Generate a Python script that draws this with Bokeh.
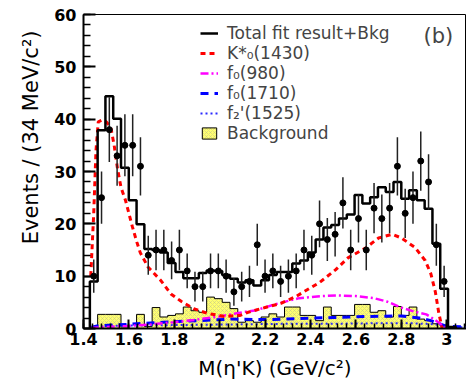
import numpy as np
from bokeh.plotting import figure
from bokeh.models import FixedTicker, Legend, LegendItem, Label, Range1d, Title
from bokeh.embed import file_html
from bokeh.resources import INLINE

# ---- binning of the M(eta'K) spectrum ----
bin_lo = 1.428
bin_width = 0.0343

# observed events per bin
data_counts = [10, 25, 38, 33, 35, 35, 31, 14, 15, 15, 13, 15, 11, 8, 8, 11,
               11, 10, 7, 8, 9, 16, 10, 11, 9, 10, 11, 15, 14, 20, 17, 18, 24,
               15, 21, 15, 23, 21, 23, 31, 22, 25, 32, 28, 16, 9]

# total fit (signal components + background), per bin
fit_total = [9.0, 37.9, 44.4, 40.1, 30.7, 24.5, 19.9, 15.2, 15.0, 14.5, 12.5,
             10.8, 9.6, 9.6, 10.6, 11.1, 11.0, 10.2, 9.5, 8.8, 9.2, 8.2, 9.2,
             10.2, 10.8, 10.8, 12.4, 13.0, 14.5, 17.0, 19.3, 19.8, 21.0, 21.8,
             25.5, 23.9, 25.1, 27.0, 26.1, 28.0, 24.8, 26.4, 24.5, 22.9, 16.2,
             7.6, 0.3]

# background estimate, per bin
background = [0.0, 2.7, 2.7, 2.7, 0.3, 0.0, 2.7, 0.4, 4.0, 2.2, 2.5, 2.8, 4.1,
              3.4, 3.1, 6.0, 5.7, 5.0, 3.8, 1.2, 1.5, 1.2, 2.2, 2.8, 2.2, 4.1,
              4.1, 2.5, 2.5, 1.5, 4.1, 2.5, 2.5, 2.5, 4.6, 4.6, 3.1, 3.4, 2.2,
              4.2, 2.5, 4.1, 1.8, 1.5, 0.9, 0.6, 0.0]

# fitted signal components (mass in GeV/c^2, events per bin)
kst_m = [1.432, 1.445, 1.455, 1.465, 1.480, 1.500, 1.520, 1.535, 1.550, 1.565,
         1.585, 1.600, 1.615, 1.635, 1.650, 1.685, 1.740, 1.785, 1.830, 1.885,
         1.945, 2.020, 2.090, 2.125, 2.200, 2.270, 2.335, 2.440, 2.510, 2.565,
         2.640, 2.700, 2.760, 2.800, 2.860, 2.905, 2.930, 2.950, 2.965, 2.980]
kst_v = [10.0, 22.0, 34.0, 39.5, 39.8, 39.5, 38.5, 35.0, 30.5, 27.0, 24.5, 22.0,
         19.5, 16.5, 14.5, 11.7, 9.2, 6.6, 5.2, 3.8, 2.9, 2.3, 2.5, 3.1, 4.0,
         4.8, 6.1, 8.8, 11.2, 13.5, 15.3, 17.3, 18.0, 17.3, 15.5, 13.0, 10.5,
         7.0, 3.0, 0.0]

f980_m = [1.432, 1.50, 1.60, 1.70, 1.80, 1.90, 2.00, 2.10, 2.16, 2.25, 2.35,
          2.45, 2.52, 2.60, 2.68, 2.74, 2.80, 2.86, 2.91, 2.95, 2.98, 3.00]
f980_v = [0.1, 0.3, 0.5, 0.8, 1.2, 1.7, 2.3, 3.1, 3.5, 4.7, 5.8, 6.2, 6.3, 6.2,
          5.8, 5.1, 4.0, 3.2, 2.7, 1.6, 0.6, 0.1]

f1710_m = [1.432, 1.46, 1.60, 1.75, 1.90, 2.05, 2.20, 2.35, 2.50, 2.65, 2.80,
           2.88, 2.93, 2.97, 3.00, 3.09]
f1710_v = [0.2, 0.5, 0.8, 1.2, 1.5, 1.8, 1.7, 1.9, 2.1, 2.3, 2.4, 2.0, 1.5, 0.9,
           0.4, 0.3]

f1525_m = [1.432, 1.50, 1.70, 1.90, 2.10, 2.30, 2.50, 2.70, 2.85, 2.95, 3.00, 3.09]
f1525_v = [0.2, 0.5, 0.6, 0.7, 0.8, 0.9, 0.9, 1.0, 1.0, 0.8, 0.3, 0.2]

# axis ticks
x_ticks = [1.4, 1.6, 1.8, 2.0, 2.2, 2.4, 2.6, 2.8, 3.0]
x_tick_labels = ["1.4", "1.6", "1.8", "2", "2.2", "2.4", "2.6", "2.8", "3"]
y_ticks = [0, 10, 20, 30, 40, 50, 60]

legend_labels = ["Total fit result+Bkg", "K*\u2080(1430)", "f\u2080(980)",
                 "f\u2080(1710)", "f\u2082'(1525)", "Background"]

FONT = "DejaVu Sans"


def hist_outline(lo, width, vals):
    """Step outline of a histogram, closed down to zero at both ends."""
    xs, ys = [lo], [0.0]
    for i, v in enumerate(vals):
        xs += [lo + i * width, lo + (i + 1) * width]
        ys += [v, v]
    xs.append(lo + len(vals) * width)
    ys.append(0.0)
    return xs, ys


centers = np.array([bin_lo + (i + 0.5) * bin_width for i in range(len(data_counts))])
counts = np.array(data_counts, dtype=float)
errors = np.sqrt(counts)

p = figure(width=466, height=387, output_backend="svg", toolbar_location=None,
           x_range=Range1d(1.4, 1.4 + 383 / 227.0), y_range=Range1d(0, 60),
           min_border_left=83, min_border_right=0, min_border_top=14,
           min_border_bottom=59)
p.xgrid.visible = False
p.ygrid.visible = False
p.background_fill_color = "white"
p.border_fill_color = "white"
p.outline_line_color = "black"
p.outline_line_width = 1

# background: hatched yellow histogram with a thin black outline
bx, by = hist_outline(bin_lo, bin_width, background)
r_bkg = p.patch(bx, by, fill_color="#ffff70", line_color="black", line_width=1,
                hatch_pattern="x", hatch_color="#b8b890", hatch_scale=4,
                hatch_weight=0.6, hatch_alpha=0.7)

# signal components
r_1525 = p.line(f1525_m, f1525_v, line_color="#2a2aff", line_width=2,
                line_dash="2 3")
r_1710 = p.line(f1710_m, f1710_v, line_color="#0000ff", line_width=3,
                line_dash="8 6")
r_980 = p.line(f980_m, f980_v, line_color="#ff00ff", line_width=2.5,
               line_dash="8 3 2 3")
r_kst = p.line(kst_m, kst_v, line_color="#ff0000", line_width=3,
               line_dash="5 4")

# total fit
fx, fy = hist_outline(bin_lo, bin_width, fit_total)
r_fit = p.line(fx, fy, line_color="black", line_width=2.5)

# data with Poisson error bars
p.segment(x0=centers, y0=counts - errors, x1=centers, y1=counts + errors,
          line_color="#222222", line_width=1.5)
p.scatter(centers, counts, size=6, color="black")

legend = Legend(items=[LegendItem(label=lab, renderers=[r]) for lab, r in
                       zip(legend_labels,
                           [r_fit, r_kst, r_980, r_1710, r_1525, r_bkg])],
                location=(117, 185), label_text_font=FONT,
                label_text_font_size="17px", glyph_width=18, glyph_height=14,
                label_standoff=9, label_height=20, spacing=0, padding=0,
                margin=0, background_fill_alpha=0, border_line_alpha=0)
p.add_layout(legend)

p.add_layout(Label(x=340, y=293, x_units="screen", y_units="screen",
                   text="(b)", text_font=FONT, text_font_size="21px",
                   text_baseline="middle"))

# axes: ticks point into the frame
for ax in (p.xaxis[0], p.yaxis[0]):
    ax.axis_line_width = 2
    ax.major_tick_line_width = 2
    ax.minor_tick_line_width = 1.5
    ax.major_tick_out = 0
    ax.minor_tick_out = 0
    ax.major_label_text_font = FONT
    ax.major_label_text_font_style = "bold"
    ax.major_label_text_font_size = "16px"
    ax.major_label_text_color = "black"

p.xaxis.ticker = FixedTicker(ticks=x_ticks,
                             minor_ticks=list(np.arange(1.40, 3.09, 0.04)))
p.xaxis.major_label_overrides = {t: s for t, s in zip(x_ticks, x_tick_labels)}
p.xaxis.major_tick_in = 9
p.xaxis.minor_tick_in = 5
p.xaxis.major_label_standoff = 4
p.xaxis.axis_label = "M(\u03b7'K) (GeV/c\u00b2)"
p.xaxis.axis_label_text_font = FONT
p.xaxis.axis_label_text_font_style = "normal"
p.xaxis.axis_label_text_color = "black"
p.xaxis.axis_label_text_font_size = "20px"
p.xaxis.axis_label_standoff = 8

p.yaxis.ticker = FixedTicker(ticks=y_ticks, minor_ticks=list(range(0, 61, 2)))
p.yaxis.major_tick_in = 12
p.yaxis.minor_tick_in = 7
p.yaxis.major_label_standoff = 7

# vertical axis title, set towards the top end of the axis
p.add_layout(Title(text="Events / (34 MeV/c\u00b2)", align="right", offset=16,
                   standoff=18, text_font=FONT, text_font_size="21px",
                   text_font_style="normal", text_color="black"), "left")

open("out.html", "w").write(file_html(p, INLINE))
